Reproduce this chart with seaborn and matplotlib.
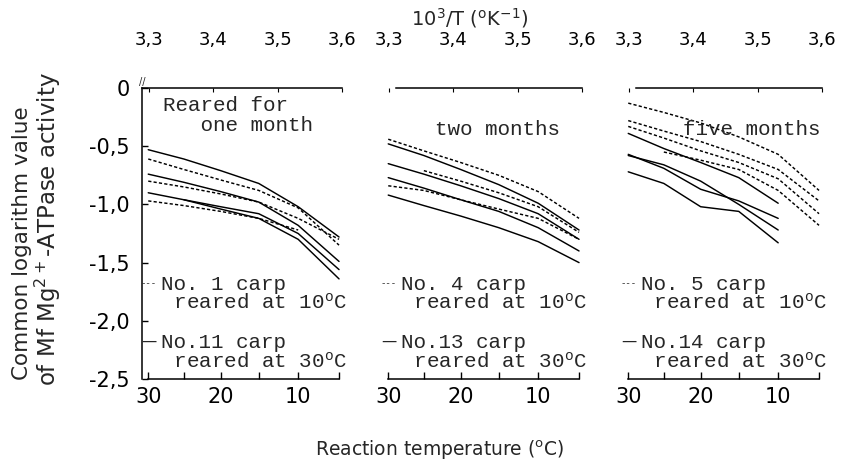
import numpy as np
import pandas as pd
import matplotlib
matplotlib.use("Agg")
import matplotlib.pyplot as plt
import seaborn as sns

nan = np.nan

# ---------------- data ----------------
TEMPS_C = [30, 25, 20, 15, 10, 5]
PANELS = ["one month", "two months", "five months"]

one_month_10C = [
    [-0.61, -0.70, -0.79, -0.88, -1.03, -1.35],
    [-0.80, -0.85, -0.91, -0.98, -1.12, -1.30],
    [-0.97, -1.01, -1.06, -1.12, -1.22, nan],
]
one_month_30C = [
    [-0.53, -0.61, -0.71, -0.82, -1.02, -1.28],
    [-0.74, -0.81, -0.89, -0.98, -1.18, -1.49],
    [-0.90, -0.96, -1.04, -1.12, -1.30, -1.64],
    [nan, -0.96, -1.02, -1.08, -1.25, -1.56],
]
two_months_10C = [
    [-0.44, -0.54, -0.64, -0.75, -0.89, -1.12],
    [nan, -0.71, -0.80, -0.90, -1.02, -1.24],
    [-0.84, -0.88, -0.96, -1.04, -1.12, -1.30],
]
two_months_30C = [
    [-0.48, -0.58, -0.70, -0.83, -0.99, -1.22],
    [-0.65, -0.74, -0.84, -0.95, -1.08, -1.30],
    [-0.77, -0.86, -0.96, -1.06, -1.20, -1.40],
    [-0.92, -1.01, -1.10, -1.20, -1.32, -1.50],
]
five_months_10C = [
    [-0.13, -0.21, -0.30, -0.42, -0.57, -0.88],
    [-0.28, -0.37, -0.46, -0.57, -0.70, -0.97],
    [-0.33, -0.43, -0.54, -0.64, -0.78, -1.08],
    [nan, -0.55, -0.62, -0.70, -0.88, -1.18],
]
five_months_30C = [
    [-0.39, -0.52, -0.64, -0.77, -0.99, nan],
    [-0.57, -0.69, -0.87, -0.97, -1.12, nan],
    [-0.58, -0.66, -0.80, -1.00, -1.22, nan],
    [-0.72, -0.82, -1.02, -1.06, -1.33, nan],
]

PANEL_DATA = [
    (one_month_10C, one_month_30C),
    (two_months_10C, two_months_30C),
    (five_months_10C, five_months_30C),
]
PANEL_TITLES = ["Reared for\n   one month", "two months", "five months"]
CARP_10C = ["No. 1 carp", "No. 4 carp", "No. 5 carp"]
CARP_30C = ["No.11 carp", "No.13 carp", "No.14 carp"]

TOP_TICKS = [3.3, 3.4, 3.5, 3.6]
TOP_LABELS = ["3,3", "3,4", "3,5", "3,6"]
BOTTOM_MAJOR_C = [30, 20, 10]
BOTTOM_MINOR_C = [25, 15, 5]
Y_TICKS = [0, -0.5, -1.0, -1.5, -2.0, -2.5]
Y_LABELS = ["0", "-0,5", "-1,0", "-1,5", "-2,0", "-2,5"]


def inv_t(c):
    return 1000.0 / (np.asarray(c, dtype=float) + 273.15)


rows = []
for panel, groups in zip(PANELS, PANEL_DATA):
    for rear, series_list in zip(["10", "30"], groups):
        for i, vals in enumerate(series_list):
            for t, v in zip(TEMPS_C, vals):
                rows.append(dict(panel=panel, rearing=rear, series=f"{rear}-{i}",
                                 invT=float(inv_t(t)), value=v))
df = pd.DataFrame(rows).dropna()

# ---------------- style ----------------
sns.set_theme(style="white")
plt.rcParams["font.family"] = ["DejaVu Sans"]
plt.rcParams["mathtext.default"] = "regular"
MONO = ["Liberation Mono", "DejaVu Sans Mono"]

W, H = 848, 473
fig = plt.figure(figsize=(W / 100, H / 100), dpi=100)


def rect(left, top, width, height):
    return [left / W, 1 - (top + height) / H, width / W, height / H]


AX_TOP, AX_H, AX_W = 88, 291, 204
LEFTS = [142, 382, 622]
XLIM = (3.289, 3.606)

for k, panel in enumerate(PANELS):
    ax = fig.add_axes(rect(LEFTS[k], AX_TOP, AX_W, AX_H))
    sub = df[df["panel"] == panel]
    sns.lineplot(data=sub, x="invT", y="value", units="series", estimator=None,
                 style="rearing", style_order=["10", "30"],
                 dashes={"10": (2.2, 1.5), "30": ""},
                 color="black", linewidth=1.05, legend=False, ax=ax)
    ax.set_xlim(*XLIM)
    ax.set_ylim(-2.5, 0.0)
    ax.set_xlabel("")
    ax.set_ylabel("")
    ax.patch.set_alpha(0)

    for s in ax.spines.values():
        s.set_color("black")
        s.set_linewidth(1.1)
    ax.spines["right"].set_visible(False)
    ax.spines["bottom"].set_bounds(float(inv_t(30)), float(inv_t(5)))
    if k == 0:
        ax.spines["top"].set_bounds(XLIM[0], 3.6)
        ax.set_yticks(Y_TICKS, Y_LABELS)
        ax.tick_params(axis="y", direction="in", length=4, width=1, pad=9,
                       labelsize=15, left=True, colors="black")
        ax.text(0.0, 1.02, "//", transform=ax.transAxes, fontsize=7,
                ha="center", va="center")
    else:
        ax.spines["left"].set_visible(False)
        ax.spines["top"].set_bounds(3.31, 3.6)
        ax.set_yticks([])

    ax.set_xticks(inv_t(BOTTOM_MAJOR_C), [str(c) for c in BOTTOM_MAJOR_C])
    ax.set_xticks(inv_t(BOTTOM_MINOR_C), minor=True)
    ax.tick_params(axis="x", which="both", direction="in", length=5, width=1,
                   bottom=True, colors="black")
    ax.tick_params(axis="x", which="major", labelsize=15, pad=6)

    ax2 = ax.twiny()
    ax2.set_xlim(*XLIM)
    for s in ax2.spines.values():
        s.set_visible(False)
    ax2.set_xticks(TOP_TICKS, TOP_LABELS)
    ax2.tick_params(axis="x", direction="in", length=3, width=0.8, pad=28,
                    labelsize=13, colors="black")
    ax2.patch.set_alpha(0)

    # panel title
    if k == 0:
        ax.text(0.103, 0.905, PANEL_TITLES[k], transform=ax.transAxes,
                family=MONO, fontsize=15, ha="left", va="center", linespacing=1.05)
    else:
        tx = 0.26 if k == 1 else 0.30
        ax.text(tx, 0.859, PANEL_TITLES[k], transform=ax.transAxes,
                family=MONO, fontsize=15, ha="left", va="center")

    # in-panel legend
    ax.text(-0.005, 0.328, "---", transform=ax.transAxes, family=MONO,
            fontsize=6.5, ha="left", va="center")
    ax.text(0.092, 0.292, f"{CARP_10C[k]}\n reared at 10$^{{o}}$C",
            transform=ax.transAxes, family=MONO, fontsize=15, ha="left",
            va="center", linespacing=0.95)
    ax.text(-0.005, 0.128, "\u2014", transform=ax.transAxes, fontsize=11,
            ha="left", va="center")
    ax.text(0.092, 0.092, f"{CARP_30C[k]}\n reared at 30$^{{o}}$C",
            transform=ax.transAxes, family=MONO, fontsize=15, ha="left",
            va="center", linespacing=0.95)

fig.text(470 / W, 1 - 18 / H, r"10$^{3}$/T ($^{o}$K$^{-1}$)", ha="center",
         va="center", fontsize=14)
fig.text(440 / W, 1 - 450 / H, r"Reaction temperature ($^{o}$C)", ha="center",
         va="center", fontsize=13.5)
fig.text(22 / W, 1 - 243 / H, "Common logarithm value", rotation=90,
         ha="center", va="center", fontsize=15.5)
fig.text(48 / W, 1 - 229 / H, r"of Mf Mg$^{2+}$-ATPase activity", rotation=90,
         ha="center", va="center", fontsize=16.5)

fig.savefig("out.png", dpi=100)
